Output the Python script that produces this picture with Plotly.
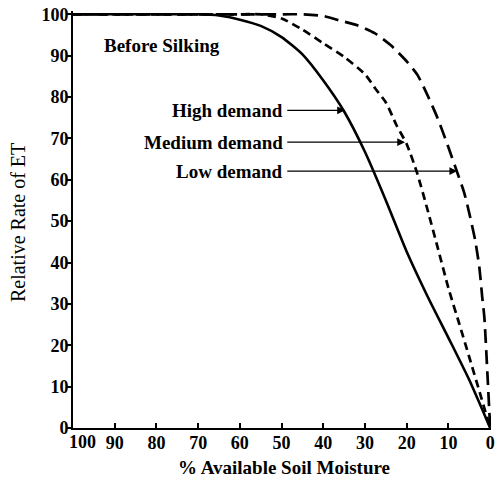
import plotly.graph_objects as go

# % available soil moisture (x) and relative rate of ET (y) for each demand level
high_x = [100, 90, 80, 70, 65, 60, 55, 50, 45, 40, 35, 30, 25, 20, 15, 10, 5, 0]
high_y = [100, 100, 100, 100, 99.7, 98.7, 97.2, 94.5, 90.3, 84, 76.5, 66.7, 55, 42.6, 31.8, 21.8, 11.6, 0]

medium_x = [100, 90, 80, 70, 60, 55, 50, 45, 40, 35, 30, 27.5, 25, 22.5, 20, 17.5, 15, 12.5, 10, 7.5, 5, 2.5, 0]
medium_y = [100, 100, 100, 100, 100, 100, 99, 96.3, 93, 89.7, 85.5, 82, 78.7, 73.3, 68.6, 61.6, 52.7, 43.3, 33.8, 25.5, 17.1, 8.6, 0]

low_x = [100, 90, 80, 70, 60, 50, 45, 40, 36.4, 31.7, 27.6, 23.8, 19.8, 17.4, 15, 12.6, 10.2, 7.9, 6.2, 4.8, 3.6, 2.6, 1.9, 1.4, 0.6, 0.2, 0]
low_y = [100, 100, 100, 100, 100, 100, 100, 99.6, 98.6, 97.3, 95.4, 92.5, 88.4, 85.3, 80.4, 74.9, 68.4, 61.8, 56.8, 51, 45.4, 38.9, 31.6, 26.8, 12, 4, 0]

x_ticks = [100, 90, 80, 70, 60, 50, 40, 30, 20, 10, 0]
x_tick_text = ["", "90", "80", "70", "60", "50", "40", "30", "20", "10", "0"]
x_first_tick = 100
x_first_tick_text = "100"
y_ticks = [0, 10, 20, 30, 40, 50, 60, 70, 80, 90, 100]

# label text, where its arrow ends on the curve, and where the text sits
labels = ["High demand", "Medium demand", "Low demand"]
arrow_tip_x = [34.8, 20.4, 7.9]
arrow_tip_y = [76.8, 69.1, 62.1]
label_x = 49.2
label_y = [76.8, 69.1, 62.1]
arrow_tail_x = 49

SERIF = "Liberation Serif, Times New Roman, serif"

fig = go.Figure()
fig.add_trace(go.Scatter(x=low_x, y=low_y, mode="lines",
                         line=dict(color="black", width=2.7, dash="14px,7px", shape="spline", smoothing=0.6),
                         name="Low demand"))
fig.add_trace(go.Scatter(x=medium_x, y=medium_y, mode="lines",
                         line=dict(color="black", width=2.7, dash="8px,5px", shape="spline", smoothing=0.6),
                         name="Medium demand"))
fig.add_trace(go.Scatter(x=high_x, y=high_y, mode="lines",
                         line=dict(color="black", width=2.6, shape="spline", smoothing=0.6),
                         name="High demand"))

annotations = []
for text, tx, ty, ly in zip(labels, arrow_tip_x, arrow_tip_y, label_y):
    annotations.append(dict(x=label_x, y=ly, xref="x", yref="y", text=f"<b>{text}</b>",
                            showarrow=False, xanchor="right", yanchor="middle",
                            font=dict(family=SERIF, size=19, color="black")))
    annotations.append(dict(x=tx, y=ty, xref="x", yref="y", ax=arrow_tail_x, ay=ly,
                            axref="x", ayref="y", text="", showarrow=True,
                            arrowhead=2, arrowsize=1.3, arrowwidth=1.2,
                            arrowcolor="black", standoff=0, startstandoff=0))

# first x tick label sits a little right of its tick, clear of the y-axis "0"
annotations.append(dict(x=x_first_tick, y=0, xref="x", yref="y", text=f"<b>{x_first_tick_text}</b>",
                        showarrow=False, xanchor="center", yanchor="middle",
                        xshift=9, yshift=-14,
                        font=dict(family=SERIF, size=18, color="black")))

annotations.append(dict(x=93.1, y=92.5, xref="x", yref="y", text="<b>Before Silking</b>",
                        showarrow=False, xanchor="left", yanchor="middle",
                        font=dict(family=SERIF, size=19, color="black")))
annotations.append(dict(x=0.505, y=-0.095, xref="paper", yref="paper",
                        text="<b>% Available Soil Moisture</b>", showarrow=False,
                        xanchor="center", yanchor="middle",
                        font=dict(family=SERIF, size=19, color="black")))
annotations.append(dict(x=-0.13, y=0.493, xref="paper", yref="paper",
                        text="Relative Rate of ET", textangle=-90, showarrow=False,
                        xanchor="center", yanchor="middle",
                        font=dict(family=SERIF, size=20, color="black")))

fig.update_layout(
    width=495, height=478,
    margin=dict(l=73, r=0, t=11, b=50),
    paper_bgcolor="white", plot_bgcolor="white",
    showlegend=False,
    annotations=annotations,
    font=dict(family=SERIF, color="black"),
)
fig.update_xaxes(
    range=[100, -0.2], tickvals=x_ticks, ticktext=x_tick_text,
    ticks="inside", ticklen=5, tickwidth=1.5, tickcolor="black",
    showline=True, linecolor="black", linewidth=2,
    showgrid=False, zeroline=False, ticklabeloverflow="allow",
    ticklabelstandoff=-3,
    tickfont=dict(family=SERIF, size=18, color="black", weight="bold"),
)
fig.update_yaxes(
    range=[0, 100.8], tickvals=y_ticks,
    ticks="outside", ticklen=5, tickwidth=1.5, tickcolor="black",
    showline=True, linecolor="black", linewidth=2,
    showgrid=False, zeroline=False, ticklabelstandoff=-6,
    tickfont=dict(family=SERIF, size=18, color="black", weight="bold"),
)

fig.write_html("out.html")
